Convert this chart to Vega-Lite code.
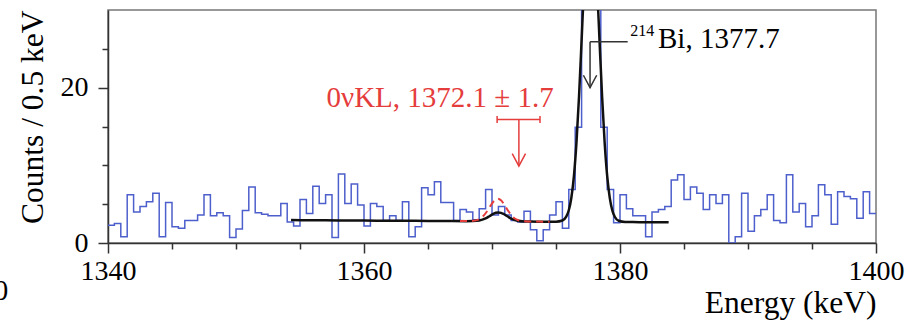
{
  "$schema": "https://vega.github.io/schema/vega-lite/v6.json",
  "width": 768,
  "height": 233,
  "autosize": {"type": "none"},
  "padding": {"left": 108, "top": 10, "right": 42, "bottom": 79},
  "background": "white",
  "config": {
    "font": "Liberation Serif",
    "view": {"stroke": "#777", "strokeWidth": 1.5},
    "axis": {"grid": false}
  },
  "datasets": {
    "hist": [
      {"x0":1340,"x1":1340.5,"y":2.3},{"x0":1340.5,"x1":1341,"y":2.5},{"x0":1341,"x1":1341.5,"y":0.8},{"x0":1341.5,"x1":1342,"y":6.2},
      {"x0":1342,"x1":1342.5,"y":4.0},{"x0":1342.5,"x1":1343,"y":4.7},{"x0":1343,"x1":1343.5,"y":5.3},{"x0":1343.5,"x1":1344,"y":6.4},
      {"x0":1344,"x1":1344.5,"y":0.8},{"x0":1344.5,"x1":1345,"y":5.2},{"x0":1345,"x1":1345.5,"y":2.1},{"x0":1345.5,"x1":1346,"y":1.9},
      {"x0":1346,"x1":1346.5,"y":2.9},{"x0":1346.5,"x1":1347,"y":2.9},{"x0":1347,"x1":1347.5,"y":3.6},{"x0":1347.5,"x1":1348,"y":6.2},
      {"x0":1348,"x1":1348.5,"y":3.5},{"x0":1348.5,"x1":1349,"y":3.9},{"x0":1349,"x1":1349.5,"y":3.5},{"x0":1349.5,"x1":1350,"y":0.7},
      {"x0":1350,"x1":1350.5,"y":1.8},{"x0":1350.5,"x1":1351,"y":4.2},{"x0":1351,"x1":1351.5,"y":7.2},{"x0":1351.5,"x1":1352,"y":3.9},
      {"x0":1352,"x1":1352.5,"y":3.7},{"x0":1352.5,"x1":1353,"y":3.5},{"x0":1353,"x1":1353.5,"y":3.5},{"x0":1353.5,"x1":1354,"y":5.1},
      {"x0":1354,"x1":1354.5,"y":2.7},{"x0":1354.5,"x1":1355,"y":2.2},{"x0":1355,"x1":1355.5,"y":5.6},{"x0":1355.5,"x1":1356,"y":3.8},
      {"x0":1356,"x1":1356.5,"y":7.3},{"x0":1356.5,"x1":1357,"y":5.1},{"x0":1357,"x1":1357.5,"y":6.2},{"x0":1357.5,"x1":1358,"y":0.7},
      {"x0":1358,"x1":1358.5,"y":8.9},{"x0":1358.5,"x1":1359,"y":5.1},{"x0":1359,"x1":1359.5,"y":7.6},{"x0":1359.5,"x1":1360,"y":4.9},
      {"x0":1360,"x1":1360.5,"y":2.2},{"x0":1360.5,"x1":1361,"y":5.1},{"x0":1361,"x1":1361.5,"y":4.7},{"x0":1361.5,"x1":1362,"y":2.9},
      {"x0":1362,"x1":1362.5,"y":3.5},{"x0":1362.5,"x1":1363,"y":2.9},{"x0":1363,"x1":1363.5,"y":5.3},{"x0":1363.5,"x1":1364,"y":0.8},
      {"x0":1364,"x1":1364.5,"y":2.1},{"x0":1364.5,"x1":1365,"y":7.1},{"x0":1365,"x1":1365.5,"y":6.2},{"x0":1365.5,"x1":1366,"y":7.9},
      {"x0":1366,"x1":1366.5,"y":5.2},{"x0":1366.5,"x1":1367,"y":5.2},{"x0":1367,"x1":1367.5,"y":2.9},{"x0":1367.5,"x1":1368,"y":4.3},
      {"x0":1368,"x1":1368.5,"y":4.0},{"x0":1368.5,"x1":1369,"y":3.0},{"x0":1369,"x1":1369.5,"y":4.4},{"x0":1369.5,"x1":1370,"y":6.9},
      {"x0":1370,"x1":1370.5,"y":3.6},{"x0":1370.5,"x1":1371,"y":4.7},{"x0":1371,"x1":1371.5,"y":3.6},{"x0":1371.5,"x1":1372,"y":2.9},
      {"x0":1372,"x1":1372.5,"y":2.7},{"x0":1372.5,"x1":1373,"y":4.1},{"x0":1373,"x1":1373.5,"y":1.7},{"x0":1373.5,"x1":1374,"y":0.3},
      {"x0":1374,"x1":1374.5,"y":1.7},{"x0":1374.5,"x1":1375,"y":3.6},{"x0":1375,"x1":1375.5,"y":5.3},{"x0":1375.5,"x1":1376,"y":1.9},
      {"x0":1376,"x1":1376.5,"y":6.9},{"x0":1376.5,"x1":1377,"y":14.9},{"x0":1377,"x1":1377.5,"y":40},{"x0":1377.5,"x1":1378,"y":45},
      {"x0":1378,"x1":1378.5,"y":36},{"x0":1378.5,"x1":1379,"y":14.9},{"x0":1379,"x1":1379.5,"y":6.9},{"x0":1379.5,"x1":1380,"y":2.6},
      {"x0":1380,"x1":1380.5,"y":6.2},{"x0":1380.5,"x1":1381,"y":4.4},{"x0":1381,"x1":1381.5,"y":3.5},{"x0":1381.5,"x1":1382,"y":3.5},
      {"x0":1382,"x1":1382.5,"y":0.8},{"x0":1382.5,"x1":1383,"y":4.0},{"x0":1383,"x1":1383.5,"y":4.3},{"x0":1383.5,"x1":1384,"y":4.7},
      {"x0":1384,"x1":1384.5,"y":8.1},{"x0":1384.5,"x1":1385,"y":8.8},{"x0":1385,"x1":1385.5,"y":5.6},{"x0":1385.5,"x1":1386,"y":7.2},
      {"x0":1386,"x1":1386.5,"y":6.4},{"x0":1386.5,"x1":1387,"y":4.3},{"x0":1387,"x1":1387.5,"y":6.2},{"x0":1387.5,"x1":1388,"y":5.1},
      {"x0":1388,"x1":1388.5,"y":6.2},{"x0":1388.5,"x1":1389,"y":0},{"x0":1389,"x1":1389.5,"y":0.8},{"x0":1389.5,"x1":1390,"y":6.4},
      {"x0":1390,"x1":1390.5,"y":1.5},{"x0":1390.5,"x1":1391,"y":3.5},{"x0":1391,"x1":1391.5,"y":4.3},{"x0":1391.5,"x1":1392,"y":6.2},
      {"x0":1392,"x1":1392.5,"y":2.9},{"x0":1392.5,"x1":1393,"y":2.6},{"x0":1393,"x1":1393.5,"y":8.8},{"x0":1393.5,"x1":1394,"y":4.0},
      {"x0":1394,"x1":1394.5,"y":5.1},{"x0":1394.5,"x1":1395,"y":2.1},{"x0":1395,"x1":1395.5,"y":3.5},{"x0":1395.5,"x1":1396,"y":7.5},
      {"x0":1396,"x1":1396.5,"y":6.2},{"x0":1396.5,"x1":1397,"y":2.4},{"x0":1397,"x1":1397.5,"y":6.6},{"x0":1397.5,"x1":1398,"y":6.0},
      {"x0":1398,"x1":1398.5,"y":5.7},{"x0":1398.5,"x1":1399,"y":3.2},{"x0":1399,"x1":1399.5,"y":6.6},{"x0":1399.5,"x1":1400,"y":3.8}
    ],
    "fit": [
      {"x":1354.3,"y":2.95},{"x":1356,"y":2.93},{"x":1358,"y":2.91},{"x":1360,"y":2.89},{"x":1362,"y":2.87},{"x":1364,"y":2.85},
      {"x":1366,"y":2.83},{"x":1368,"y":2.81},{"x":1368.5,"y":2.82},{"x":1369,"y":2.89},{"x":1369.5,"y":3.16},{"x":1369.8,"y":3.45},
      {"x":1370.1,"y":3.75},{"x":1370.3,"y":3.89},{"x":1370.5,"y":3.94},{"x":1370.7,"y":3.88},{"x":1370.9,"y":3.74},{"x":1371.2,"y":3.44},
      {"x":1371.5,"y":3.14},{"x":1372,"y":2.86},{"x":1372.5,"y":2.78},{"x":1373,"y":2.76},{"x":1374,"y":2.75},{"x":1375,"y":2.75},
      {"x":1375.5,"y":2.9},{"x":1375.8,"y":3.39},{"x":1376,"y":4.22},{"x":1376.2,"y":5.83},{"x":1376.4,"y":8.62},{"x":1376.6,"y":12.95},
      {"x":1376.8,"y":18.9},{"x":1377,"y":26.09},{"x":1377.2,"y":33.49},{"x":1377.45,"y":40.88},{"x":1377.7,"y":43.72},{"x":1377.95,"y":40.87},
      {"x":1378.2,"y":33.49},{"x":1378.4,"y":26.08},{"x":1378.6,"y":18.89},{"x":1378.8,"y":12.94},{"x":1379,"y":8.6},{"x":1379.2,"y":5.81},
      {"x":1379.4,"y":4.19},{"x":1379.6,"y":3.35},{"x":1379.9,"y":2.86},{"x":1380.4,"y":2.7},{"x":1381,"y":2.69},{"x":1382,"y":2.68},
      {"x":1383,"y":2.67},{"x":1383.8,"y":2.66}
    ],
    "sig": [
      {"x":1367.5,"y":2.82},{"x":1368,"y":2.82},{"x":1368.5,"y":2.85},{"x":1369,"y":3.06},{"x":1369.3,"y":3.44},{"x":1369.6,"y":4.06},
      {"x":1369.9,"y":4.84},{"x":1370.2,"y":5.49},{"x":1370.45,"y":5.69},{"x":1370.7,"y":5.49},{"x":1371,"y":4.83},{"x":1371.3,"y":4.05},
      {"x":1371.6,"y":3.41},{"x":1371.9,"y":3.03},{"x":1372.4,"y":2.81},{"x":1373,"y":2.76},{"x":1374,"y":2.75},{"x":1374.5,"y":2.75}
    ],
    "redseg": [
      {"s":"bar","o":0,"x":1370.4,"y":15.9},{"s":"bar","o":1,"x":1373.75,"y":15.9},
      {"s":"capl","o":0,"x":1370.4,"y":15.45},{"s":"capl","o":1,"x":1370.4,"y":16.35},
      {"s":"capr","o":0,"x":1373.75,"y":15.45},{"s":"capr","o":1,"x":1373.75,"y":16.35},
      {"s":"stem","o":0,"x":1372.1,"y":15.9},{"s":"stem","o":1,"x":1372.1,"y":9.9},
      {"s":"head","o":0,"x":1371.58,"y":11.5},{"s":"head","o":1,"x":1372.1,"y":9.9},{"s":"head","o":2,"x":1372.62,"y":11.5}
    ],
    "blackseg": [
      {"s":"hor","o":0,"x":1377.66,"y":25.9},{"s":"hor","o":1,"x":1380.6,"y":25.9},
      {"s":"stem","o":0,"x":1377.66,"y":25.9},{"s":"stem","o":1,"x":1377.66,"y":20.0},
      {"s":"head","o":0,"x":1377.14,"y":21.6},{"s":"head","o":1,"x":1377.66,"y":20.0},{"s":"head","o":2,"x":1378.18,"y":21.6}
    ],
    "redtext": [{"x":1365.95,"y":17.5,"t":"0νKL, 1372.1 ± 1.7"}],
    "bitext": [{"x":1382.97,"y":25.1,"t":"Bi, 1377.7"}],
    "suptext": [{"x":1380.8,"y":26.6,"t":"214"}],
    "cuttext": [{"x":1332.2,"y":-7.3,"t":"0"}]
  },
  "encoding": {
    "x": {
      "field": "x", "type": "quantitative",
      "scale": {"domain": [1340, 1400], "nice": false, "zero": false},
      "axis": {
        "values": [1340,1345,1350,1355,1360,1365,1370,1375,1380,1385,1390,1395,1400],
        "format": "d",
        "labelExpr": "datum.value % 20 === 0 ? datum.label : ''",
        "labelFlush": false, "labelOverlap": false,
        "labelFontSize": 28, "labelColor": "#000", "labelPadding": 4,
        "tickSize": {"condition": {"test": "datum.value % 20 === 0", "value": 10}, "value": 6},
        "tickColor": "#333", "tickWidth": 1.5, "domainColor": "#333", "domainWidth": 1.5,
        "title": "Energy (keV)", "titleFontSize": 31.5, "titleFontWeight": "normal", "titleColor": "#000",
        "titleAnchor": "end", "titleY": 69, "titleBaseline": "alphabetic"
      }
    },
    "y": {
      "field": "y", "type": "quantitative",
      "scale": {"domain": [0, 30], "nice": false, "zero": false},
      "axis": {
        "values": [0,5,10,15,20,25],
        "format": "d",
        "labelExpr": "datum.value % 20 === 0 ? datum.label : ''",
        "labelOverlap": false, "labelFlush": false,
        "labelFontSize": 28, "labelColor": "#000", "labelPadding": 10,
        "tickSize": {"condition": {"test": "datum.value % 20 === 0", "value": 10}, "value": 6},
        "tickColor": "#333", "tickWidth": 1.5, "domainColor": "#333", "domainWidth": 1.5,
        "title": "Counts / 0.5 keV", "titleFontSize": 31.5, "titleFontWeight": "normal", "titleColor": "#000",
        "titleAnchor": "end", "titleX": -66, "titleBaseline": "alphabetic"
      }
    }
  },
  "layer": [
    {
      "data": {"name": "hist"},
      "transform": [{"fold": ["x0", "x1"], "as": ["edge", "x"]}],
      "mark": {"type": "line", "clip": true, "color": "#4d5fcc", "strokeWidth": 1.5, "interpolate": "linear"},
      "encoding": {
        "order": [
          {"field": "x", "type": "quantitative"},
          {"field": "edge", "type": "nominal", "sort": "descending"}
        ]
      }
    },
    {
      "data": {"name": "fit"},
      "mark": {"type": "line", "clip": true, "color": "#111", "strokeWidth": 2.5, "interpolate": "monotone"},
      "encoding": {}
    },
    {
      "data": {"name": "sig"},
      "mark": {"type": "line", "clip": true, "color": "#e53c3c", "strokeWidth": 2, "strokeDash": [7, 5], "interpolate": "monotone"},
      "encoding": {}
    },
    {
      "data": {"name": "redseg"},
      "mark": {"type": "line", "color": "#e53c3c", "strokeWidth": 1.5},
      "encoding": {"detail": {"field": "s"}, "order": {"field": "o", "type": "quantitative"}}
    },
    {
      "data": {"name": "blackseg"},
      "mark": {"type": "line", "color": "#333", "strokeWidth": 1.5},
      "encoding": {"detail": {"field": "s"}, "order": {"field": "o", "type": "quantitative"}}
    },
    {
      "data": {"name": "redtext"},
      "mark": {"type": "text", "color": "#e53c3c", "fontSize": 29, "align": "center", "baseline": "alphabetic"},
      "encoding": {"text": {"field": "t"}}
    },
    {
      "data": {"name": "bitext"},
      "mark": {"type": "text", "color": "#000", "fontSize": 29, "align": "left", "baseline": "alphabetic"},
      "encoding": {"text": {"field": "t"}}
    },
    {
      "data": {"name": "suptext"},
      "mark": {"type": "text", "color": "#000", "fontSize": 16, "align": "left", "baseline": "alphabetic"},
      "encoding": {"text": {"field": "t"}}
    },
    {
      "data": {"name": "cuttext"},
      "mark": {"type": "text", "color": "#000", "fontSize": 29, "align": "right", "baseline": "alphabetic"},
      "encoding": {"text": {"field": "t"}}
    }
  ]
}
